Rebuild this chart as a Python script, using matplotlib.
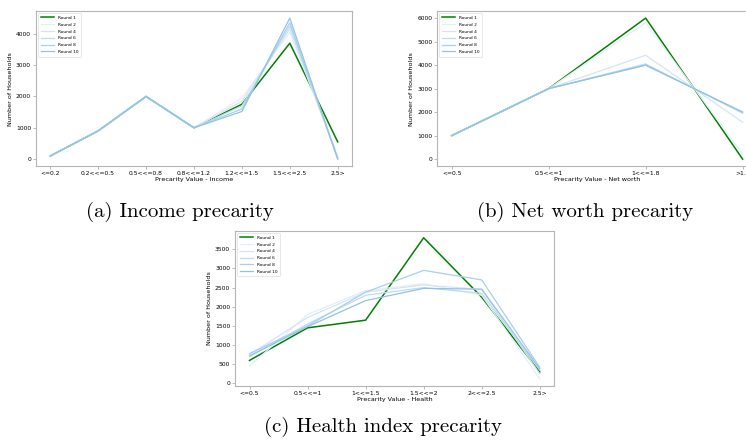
import numpy as np
import matplotlib
matplotlib.use("Agg")
import matplotlib.pyplot as plt

# 收入
income_cats = ["<=0.2", "0.2<<=0.5", "0.5<<=0.8", "0.8<<=1.2", "1.2<<=1.5", "1.5<<=2.5", "2.5>"]
income_r1 = [100, 900, 2000, 1000, 1750, 3700, 550]
income_r2 = [100, 900, 2000, 1000, 1950, 4050, 100]
income_r4 = [100, 900, 2000, 1000, 1850, 4150, 50]
income_r6 = [100, 900, 2000, 1000, 1700, 4250, 30]
income_r8 = [100, 900, 2000, 1000, 1600, 4350, 10]
income_r10 = [100, 900, 2000, 1000, 1520, 4500, 0]

# 净资产
worth_cats = ["<=0.5", "0.5<<=1", "1<<=1.8", ">1.8"]
worth_r1 = [1000, 3000, 6000, 0]
worth_r2 = [1000, 3000, 5800, 220]
worth_r4 = [1000, 3000, 4420, 1570]
worth_r6 = [1000, 3000, 4050, 1950]
worth_r8 = [1000, 3000, 4000, 2000]
worth_r10 = [1000, 3000, 4000, 2000]

# 健康
health_cats = ["<=0.5", "0.5<<=1", "1<<=1.5", "1.5<<=2", "2<<=2.5", "2.5>"]
health_r1 = [600, 1450, 1650, 3800, 2250, 300]
health_r2 = [450, 1800, 2420, 2600, 2300, 120]
health_r4 = [750, 1720, 2380, 2570, 2450, 250]
health_r6 = [700, 1550, 2300, 2500, 2350, 350]
health_r8 = [780, 1500, 2380, 2950, 2700, 420]
health_r10 = [720, 1480, 2160, 2480, 2460, 380]

rounds = ["Round 1", "Round 2", "Round 4", "Round 6", "Round 8", "Round 10"]
blues = ["#e3eef9", "#d3e5f5", "#c0dbf0", "#a9cfe9", "#92c3e4"]

plt.rcParams['font.family'] = ['DejaVu Sans']

fig = plt.figure(figsize=(7.46, 4.42), dpi=100)


def draw(ax, cats, series, xlabel):
    x = np.arange(len(cats))
    ax.plot(x, series[0], color="green", lw=1.1, label=rounds[0])
    for s, c, lab in zip(series[1:], blues, rounds[1:]):
        ax.plot(x, s, color=c, lw=0.9, label=lab)
    ax.set_xticks(x)
    ax.set_xticklabels(cats, fontsize=4.3)
    ax.tick_params(axis='y', labelsize=4.3)
    ax.tick_params(length=2, width=0.4, pad=1.5, color='#888888')
    for sp in ax.spines.values():
        sp.set_color('#b5b5b5')
        sp.set_linewidth(0.8)
    ax.set_xlabel(xlabel, fontsize=4.6, labelpad=1)
    ax.set_ylabel("Number of Households", fontsize=4.6, labelpad=2)
    leg = ax.legend(loc="upper left", fontsize=3.2, handlelength=3, frameon=True,
                    borderpad=0.6, labelspacing=0.6)
    leg.get_frame().set_linewidth(0.4)


ax1 = fig.add_axes([0.048, 0.624, 0.424, 0.351])
draw(ax1, income_cats, [income_r1, income_r2, income_r4, income_r6, income_r8, income_r10],
     "Precarity Value - Income")
ax1.set_yticks([0, 1000, 2000, 3000, 4000])

ax2 = fig.add_axes([0.586, 0.624, 0.429, 0.351])
draw(ax2, worth_cats, [worth_r1, worth_r2, worth_r4, worth_r6, worth_r8, worth_r10],
     "Precarity Value - Net worth")
ax2.set_yticks([0, 1000, 2000, 3000, 4000, 5000, 6000])

ax3 = fig.add_axes([0.315, 0.127, 0.428, 0.351])
draw(ax3, health_cats, [health_r1, health_r2, health_r4, health_r6, health_r8, health_r10],
     "Precarity Value - Health")
ax3.set_yticks(np.arange(0, 3501, 500))

cap = dict(fontsize=15, family='cmr10', ha='center', va='center')
fig.text(0.241, 0.520, "(a) Income precarity", **cap)
fig.text(0.784, 0.520, "(b) Net worth precarity", **cap)
fig.text(0.513, 0.034, "(c) Health index precarity", **cap)

fig.savefig("out.png", dpi=100)
